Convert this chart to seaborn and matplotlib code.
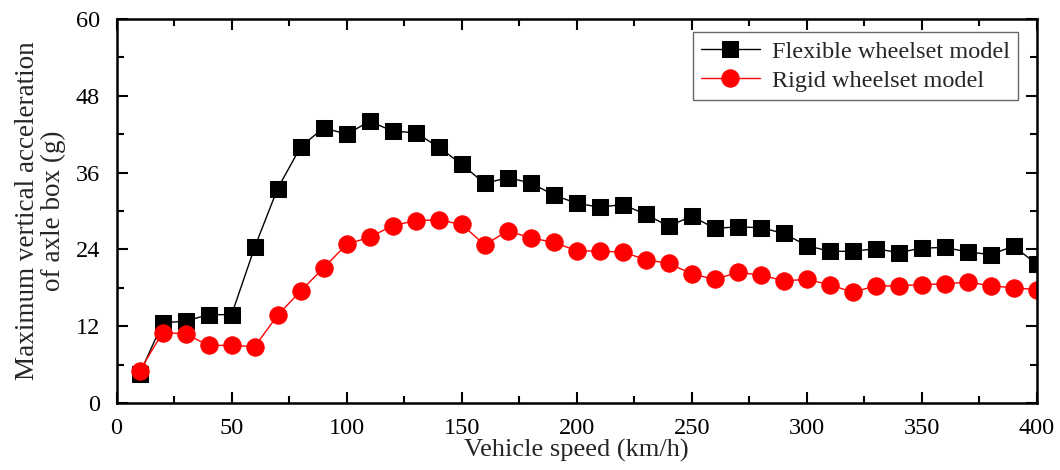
import matplotlib
matplotlib.use("Agg")
import matplotlib.pyplot as plt
import seaborn as sns
import pandas as pd
from matplotlib.ticker import MultipleLocator

speed = list(range(10, 401, 10))
flexible = [4.5, 12.5, 12.8, 13.8, 13.8, 24.3, 33.5, 40.0, 43.0, 42.0,
            44.0, 42.5, 42.2, 40.0, 37.3, 34.3, 35.2, 34.4, 32.5, 31.2,
            30.6, 31.0, 29.5, 27.6, 29.2, 27.3, 27.5, 27.4, 26.5, 24.6,
            23.7, 23.7, 24.1, 23.5, 24.2, 24.3, 23.6, 23.2, 24.5, 21.7]
rigid = [5.0, 11.0, 10.8, 9.0, 9.0, 8.8, 13.7, 17.5, 21.1, 24.8,
         25.9, 27.7, 28.5, 28.6, 27.9, 24.7, 26.9, 25.8, 25.1, 23.8,
         23.7, 23.6, 22.4, 21.8, 20.2, 19.3, 20.4, 20.0, 19.1, 19.3,
         18.5, 17.3, 18.3, 18.3, 18.5, 18.6, 18.9, 18.3, 18.0, 17.7]
labels = ["Flexible wheelset model", "Rigid wheelset model"]
x_ticks = [0, 50, 100, 150, 200, 250, 300, 350, 400]
y_ticks = [0, 12, 24, 36, 48, 60]

sns.set_theme(style="ticks")
plt.rcParams['font.family'] = ['Liberation Serif', 'DejaVu Serif']

df_f = pd.DataFrame({"speed": speed, "acc": flexible})
df_r = pd.DataFrame({"speed": speed, "acc": rigid})

fig = plt.figure(figsize=(10.6, 4.7), dpi=100)
ax = fig.add_axes([0.110, 0.1426, 0.868, 0.817])

sns.lineplot(data=df_f, x="speed", y="acc", ax=ax, color="black", lw=1.0,
             marker="s", markersize=11, markeredgecolor="black", label=labels[0])
sns.lineplot(data=df_r, x="speed", y="acc", ax=ax, color="red", lw=1.0,
             marker="o", markersize=12.5, markeredgecolor="red", label=labels[1])

ax.set_xlim(0, 400)
ax.set_ylim(0, 60)
ax.set_xticks(x_ticks)
ax.set_yticks(y_ticks)
ax.xaxis.set_minor_locator(MultipleLocator(25))
ax.yaxis.set_minor_locator(MultipleLocator(6))
ax.tick_params(which="both", direction="in", top=True, right=True, width=1.5,
               labelsize=17.5, colors="black")
ax.tick_params(which="major", length=8)
ax.tick_params(which="minor", length=5)
ax.tick_params(axis="y", pad=12)
ax.tick_params(axis="x", pad=11)
for s in ax.spines.values():
    s.set_linewidth(1.8)
    s.set_color("black")

ax.set_xlabel("Vehicle speed (km/h)", fontsize=19, labelpad=0)
ax.set_ylabel("Maximum vertical acceleration\nof axle box (g)", fontsize=19.5,
              labelpad=7, linespacing=1.05)

leg = ax.legend(loc="upper right", fontsize=17.5, frameon=True, fancybox=False,
                edgecolor="#444444", handlelength=2.4, borderpad=0.35,
                labelspacing=0.3, handletextpad=0.5, borderaxespad=0,
                bbox_to_anchor=(0.980, 0.966))
leg.get_frame().set_linewidth(1.0)

fig.savefig("out.png", dpi=100)
